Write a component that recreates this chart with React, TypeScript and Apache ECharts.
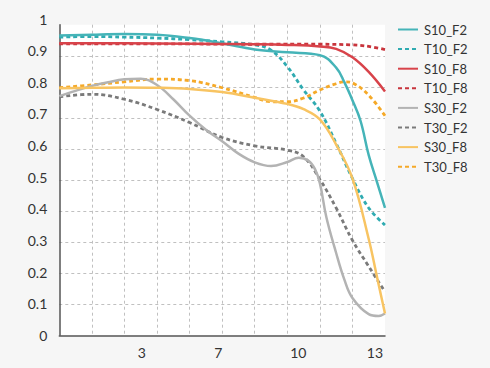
import React, { useEffect, useRef } from 'react';
import * as echarts from 'echarts';

const seriesNames = ['S10_F2', 'T10_F2', 'S10_F8', 'T10_F8', 'S30_F2', 'T30_F2', 'S30_F8', 'T30_F8'];

const S10_F2 = [[0, 0.965], [1, 0.968], [2, 0.97], [3, 0.968], [4, 0.957], [5, 0.94], [6, 0.92], [7, 0.911], [8, 0.902], [8.5, 0.862], [8.75, 0.815], [9, 0.757], [9.25, 0.69], [9.5, 0.58], [9.75, 0.495], [10, 0.41]];
const T10_F2 = [[0, 0.96], [1, 0.962], [2, 0.96], [3, 0.957], [4, 0.952], [5, 0.945], [6, 0.935], [6.5, 0.918], [7, 0.865], [7.5, 0.79], [8, 0.722], [8.5, 0.618], [9, 0.505], [9.5, 0.41], [10, 0.355]];
const S10_F8 = [[0, 0.94], [2, 0.94], [4, 0.939], [6, 0.937], [7, 0.935], [8, 0.93], [8.5, 0.922], [9, 0.895], [9.5, 0.848], [10, 0.785]];
const T10_F8 = [[0, 0.938], [2, 0.938], [4, 0.938], [6, 0.937], [8, 0.937], [9, 0.935], [9.5, 0.93], [10, 0.92]];
const S30_F2 = [[0, 0.77], [0.5, 0.787], [1, 0.803], [1.5, 0.815], [2, 0.824], [2.5, 0.826], [3, 0.806], [3.5, 0.76], [4, 0.707], [4.5, 0.662], [5, 0.625], [5.5, 0.585], [6, 0.557], [6.5, 0.545], [7, 0.558], [7.35, 0.572], [7.65, 0.562], [7.85, 0.535], [8, 0.49], [8.2, 0.38], [8.5, 0.265], [8.75, 0.18], [9, 0.12], [9.5, 0.068], [9.8, 0.062], [10, 0.07]];
const T30_F2 = [[0, 0.768], [1, 0.776], [2, 0.76], [3, 0.727], [4, 0.685], [5, 0.637], [6, 0.61], [7, 0.596], [7.5, 0.575], [8, 0.502], [8.5, 0.41], [9, 0.306], [9.5, 0.222], [10, 0.14]];
const S30_F8 = [[0, 0.795], [1, 0.797], [2, 0.798], [3, 0.797], [4, 0.793], [5, 0.783], [6, 0.765], [7, 0.745], [7.5, 0.728], [8, 0.695], [8.5, 0.614], [9, 0.505], [9.5, 0.31], [9.75, 0.19], [10, 0.07]];
const T30_F8 = [[0, 0.797], [1, 0.806], [2, 0.816], [3, 0.825], [4, 0.82], [5, 0.797], [6, 0.766], [6.5, 0.752], [7, 0.752], [7.5, 0.764], [8, 0.79], [8.5, 0.81], [8.75, 0.816], [9.05, 0.81], [9.5, 0.773], [10, 0.707]];

const seriesData = [S10_F2, T10_F2, S10_F8, T10_F8, S30_F2, T30_F2, S30_F8, T30_F8];
const seriesColors = ['#45b4b8', '#2fabb1', '#d8434a', '#c8343c', '#b3b3b3', '#7a7a7a', '#f8c462', '#f5a928'];
const seriesDashed = [false, true, false, true, false, true, false, true];

const xTickLabels = ['3', '7', '10', '13'];
const xTickPositions = [2.53, 4.88, 7.34, 9.69];

const FONT = 'Lato';

export default function App() {
  const ref = useRef<HTMLDivElement>(null);
  useEffect(() => {
    if (!ref.current) return;
    const chart = echarts.init(ref.current, null, { renderer: 'svg' });
    const gridLine = { show: true, showMinLine: false, showMaxLine: false, lineStyle: { color: '#c0c0c0', type: [3, 3], width: 1 } };
    chart.setOption({
      animation: false,
      backgroundColor: '#f6f6f6',
      grid: [
        { left: 59.3, right: 105, top: 24.7, bottom: 32.7, show: true, backgroundColor: '#ffffff', borderWidth: 0 },
        { left: 59.3, right: 105, top: 19, bottom: 32.7, show: false },
      ],
      xAxis: [
        {
          gridIndex: 0, type: 'value', min: 0, max: 10, interval: 1,
          axisLine: { show: true, onZero: false, lineStyle: { color: '#555', width: 1.5 } },
          axisTick: { show: false }, axisLabel: { show: false }, splitLine: gridLine,
        },
        {
          gridIndex: 1, type: 'value', min: 0, max: 10,
          axisLine: { show: false }, axisTick: { show: false }, splitLine: { show: false },
          axisLabel: {
            show: true, customValues: xTickPositions, color: '#333', fontSize: 14, fontFamily: FONT, margin: 10,
            formatter: (v: number) => {
              let best = 0;
              xTickPositions.forEach((p, i) => { if (Math.abs(p - v) < Math.abs(xTickPositions[best] - v)) best = i; });
              return xTickLabels[best];
            },
          },
        },
      ],
      yAxis: [
        {
          gridIndex: 0, type: 'value', min: 0, max: 1, interval: 0.1,
          axisLine: { show: true, lineStyle: { color: '#555', width: 1.5 } },
          axisTick: { show: false }, axisLabel: { show: false }, splitLine: gridLine,
        },
        {
          gridIndex: 1, type: 'value', min: 0, max: 1, interval: 0.1,
          axisLine: { show: false }, axisTick: { show: false }, splitLine: { show: false },
          axisLabel: { color: '#333', fontSize: 14, fontFamily: FONT, margin: 12 },
        },
      ],
      legend: {
        orient: 'vertical', left: 397, top: 23, padding: 0, itemWidth: 20, itemHeight: 14, itemGap: 6.6,
        textStyle: { color: '#333', fontSize: 13, fontFamily: FONT, padding: [0, 0, 0, 1] },
        itemStyle: { opacity: 0 },
        data: seriesNames,
      },
      series: seriesNames.map((name, i) => ({
        name, type: 'line', xAxisIndex: 0, yAxisIndex: 0,
        data: seriesData[i], smooth: 0.4, symbol: 'none', showSymbol: false,
        color: seriesColors[i],
        lineStyle: { color: seriesColors[i], width: seriesDashed[i] ? 2.8 : 2.5, type: seriesDashed[i] ? [4, 3] : 'solid' },
        z: 10 - (i % 2),
      })),
    });
    return () => chart.dispose();
  }, []);
  return <div ref={ref} style={{ position: 'fixed', left: 0, top: 0, width: 490, height: 368 }} />;
}
